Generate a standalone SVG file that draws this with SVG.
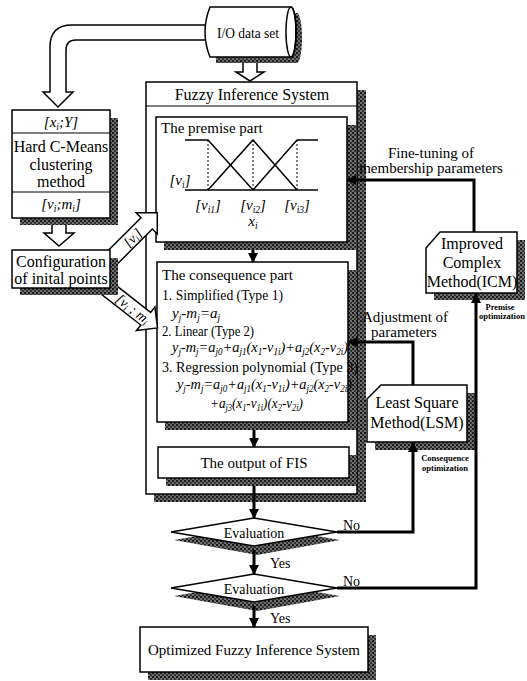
<svg xmlns="http://www.w3.org/2000/svg" width="527" height="681" viewBox="0 0 527 681">
<defs>
<pattern id="hatch" width="4" height="4" patternUnits="userSpaceOnUse">
<rect width="4" height="4" fill="#6e6e6e"/>
<rect width="2" height="2" fill="#1a1a1a"/>
<rect x="2" y="2" width="2" height="2" fill="#333"/>
</pattern>
<marker id="ah" markerWidth="10" markerHeight="10" refX="9" refY="5" orient="auto" markerUnits="userSpaceOnUse">
<path d="M0,0 L10,5 L0,10 Z" fill="#000"/>
</marker>
<style>
text{font-family:"Liberation Serif","Times New Roman",serif;fill:#000}
.t16{font-size:16px}
.t15{font-size:15px}
.t14{font-size:14px}
.sm{font-size:8.5px;font-weight:bold}
.c{text-anchor:middle}
.it{font-style:italic}
.s{font-size:9.5px}
.box{fill:#fff;stroke:#000;stroke-width:1.5}
.sh{fill:url(#hatch)}
.hol{fill:#fff;stroke:#000;stroke-width:1.5;stroke-linejoin:miter}
.ln{fill:none;stroke:#000;stroke-width:3}
.ds{fill:none;stroke:#000;stroke-width:1;stroke-dasharray:2,2}
</style>
</defs>

<!-- hollow arrows -->
<g id="hollow-arrows">
<path class="hol" d="M210,25 L72,25 Q50,25 50,47 L50,92 L43,92 L58,107 L73,92 L66,92 L66,50 Q66,40 76,40 L210,40"/>
<path class="hol" d="M243,60 L243,72 L236,72 L250,81 L264,72 L257,72 L257,60"/>
<path class="hol" d="M52,224 L52,233 L44,233 L59,246 L74,233 L66,233 L66,224"/>
</g>

<!-- I/O data set cylinder -->
<g id="io">
<path class="sh" d="M216,13 L297,13 A5,25 0 0 1 297,63 L216,63 Z"/>
<path class="box" d="M210,7 L291,7 A5,25 0 0 1 291,57 L210,57 Q200,32 210,7 Z"/>
<ellipse cx="291" cy="32" rx="5" ry="25" fill="none" stroke="#000" stroke-width="1.5"/>
<text class="t15 c" x="248" y="38" textLength="62" lengthAdjust="spacingAndGlyphs">I/O data set</text>
</g>

<!-- Hard C-Means -->
<g id="hcm">
<rect class="sh" x="20" y="118" width="98" height="107"/>
<rect class="box" x="12" y="110" width="98" height="108"/>
<line x1="12" y1="133" x2="110" y2="133" stroke="#000" stroke-width="1.2"/>
<line x1="12" y1="192" x2="110" y2="192" stroke="#000" stroke-width="1.2"/>
<text class="t15 c it" x="61" y="127">[x<tspan class="s" dy="3">i</tspan><tspan dy="-3">;Y]</tspan></text>
<text class="t16 c" x="61" y="152">Hard C-Means</text>
<text class="t16 c" x="61" y="170">clustering</text>
<text class="t16 c" x="61" y="187">method</text>
<text class="t15 c it" x="61" y="209">[v<tspan class="s" dy="3">i</tspan><tspan dy="-3">;m</tspan><tspan class="s" dy="3">i</tspan><tspan dy="-3">]</tspan></text>
</g>

<!-- FIS outer -->
<g id="fis">
<rect class="sh" x="154" y="90" width="212" height="412"/>
<rect class="box" x="146" y="82" width="211" height="412"/>
<line x1="146" y1="106" x2="357" y2="106" stroke="#000" stroke-width="1.2"/>
<text class="t16 c" x="252" y="100">Fuzzy Inference System</text>
</g>

<!-- Premise part -->
<g id="premise">
<rect class="sh" x="164" y="125" width="192" height="125"/>
<rect class="box" x="156" y="117" width="191" height="125"/>
<text class="t15" x="161" y="133">The premise part</text>
<line x1="185" y1="190" x2="318" y2="190" stroke="#000" stroke-width="1.5"/>
<polyline fill="none" stroke="#000" stroke-width="1.5" points="185,140 208,140 253,190"/>
<polyline fill="none" stroke="#000" stroke-width="1.5" points="208,190 253,140 297,190"/>
<polyline fill="none" stroke="#000" stroke-width="1.5" points="253,190 297,140 318,140"/>
<line class="ds" x1="208" y1="140" x2="208" y2="190"/>
<line class="ds" x1="253" y1="140" x2="253" y2="190"/>
<line class="ds" x1="297" y1="140" x2="297" y2="190"/>
<text class="t15 c it" x="180" y="185">[v<tspan class="s" dy="3">i</tspan><tspan dy="-3">]</tspan></text>
<text class="t15 c it" x="208" y="210">[v<tspan class="s" dy="3">i1</tspan><tspan dy="-3">]</tspan></text>
<text class="t15 c it" x="253" y="210">[v<tspan class="s" dy="3">i2</tspan><tspan dy="-3">]</tspan></text>
<text class="t15 c it" x="297" y="210">[v<tspan class="s" dy="3">i3</tspan><tspan dy="-3">]</tspan></text>
<text class="t15 c it" x="253" y="226">x<tspan class="s" dy="3">i</tspan></text>
</g>

<!-- Consequence part -->
<g id="consequence">
<rect class="sh" x="165" y="270" width="192" height="160"/>
<rect class="box" x="157" y="262" width="191" height="160"/>
<text class="t15" x="162" y="280" textLength="131" lengthAdjust="spacingAndGlyphs">The consequence part</text>
<text class="t15" x="162" y="300" textLength="121" lengthAdjust="spacingAndGlyphs">1. Simplified (Type 1)</text>
<text class="t15 it" x="172" y="318">y<tspan class="s" dy="2.5">j</tspan><tspan dy="-2.5">-m</tspan><tspan class="s" dy="2.5">j</tspan><tspan dy="-2.5">=a</tspan><tspan class="s" dy="2.5">j</tspan></text>
<text class="t15" x="162" y="336" textLength="92" lengthAdjust="spacingAndGlyphs">2. Linear (Type 2)</text>
<text class="t15 it" x="172" y="352" textLength="176" lengthAdjust="spacingAndGlyphs">y<tspan class="s" dy="2.5">j</tspan><tspan dy="-2.5">-m</tspan><tspan class="s" dy="2.5">j</tspan><tspan dy="-2.5">=a</tspan><tspan class="s" dy="2.5">j0</tspan><tspan dy="-2.5">+a</tspan><tspan class="s" dy="2.5">j1</tspan><tspan dy="-2.5">(x</tspan><tspan class="s" dy="2.5">1</tspan><tspan dy="-2.5">-v</tspan><tspan class="s" dy="2.5">1i</tspan><tspan dy="-2.5">)+a</tspan><tspan class="s" dy="2.5">j2</tspan><tspan dy="-2.5">(x</tspan><tspan class="s" dy="2.5">2</tspan><tspan dy="-2.5">-v</tspan><tspan class="s" dy="2.5">2i</tspan><tspan dy="-2.5">)</tspan></text>
<text class="t15" x="162" y="372" textLength="196" lengthAdjust="spacingAndGlyphs">3. Regression polynomial (Type 3)</text>
<text class="t15 it" x="177" y="389" textLength="175" lengthAdjust="spacingAndGlyphs">y<tspan class="s" dy="2.5">j</tspan><tspan dy="-2.5">-m</tspan><tspan class="s" dy="2.5">j</tspan><tspan dy="-2.5">=a</tspan><tspan class="s" dy="2.5">j0</tspan><tspan dy="-2.5">+a</tspan><tspan class="s" dy="2.5">j1</tspan><tspan dy="-2.5">(x</tspan><tspan class="s" dy="2.5">1</tspan><tspan dy="-2.5">-v</tspan><tspan class="s" dy="2.5">1i</tspan><tspan dy="-2.5">)+a</tspan><tspan class="s" dy="2.5">j2</tspan><tspan dy="-2.5">(x</tspan><tspan class="s" dy="2.5">2</tspan><tspan dy="-2.5">-v</tspan><tspan class="s" dy="2.5">2i</tspan><tspan dy="-2.5">)</tspan></text>
<text class="t15 it" x="210" y="408" textLength="93" lengthAdjust="spacingAndGlyphs">+a<tspan class="s" dy="2.5">j3</tspan><tspan dy="-2.5">(x</tspan><tspan class="s" dy="2.5">1</tspan><tspan dy="-2.5">-v</tspan><tspan class="s" dy="2.5">1i</tspan><tspan dy="-2.5">)(x</tspan><tspan class="s" dy="2.5">2</tspan><tspan dy="-2.5">-v</tspan><tspan class="s" dy="2.5">2i</tspan><tspan dy="-2.5">)</tspan></text>
</g>

<!-- diagonal hollow arrows -->
<g id="diag-arrows">
<g transform="translate(100,270) rotate(-45)">
<path class="hol" d="M0,-8 H66 V-15 L81,0 L66,15 V8 H0 Z"/>
<text class="t14 c it" x="46" y="5">[v<tspan class="s" dy="2.5">i</tspan><tspan dy="-2.5">]</tspan></text>
</g>
<g transform="translate(100,283) rotate(38)">
<path class="hol" d="M0,-8 H58 V-15 L73,0 L58,15 V8 H0 Z"/>
<text class="t14 c it" x="42" y="5">[v<tspan class="s" dy="2.5">i</tspan><tspan dy="-2.5"> ; m</tspan><tspan class="s" dy="2.5">i</tspan></text>
</g>
</g>

<!-- Configuration -->
<g id="config">
<rect class="sh" x="20" y="258" width="98" height="37"/>
<rect class="box" x="12" y="250" width="98" height="38"/>
<text class="t16 c" x="61" y="267">Configuration</text>
<text class="t16 c" x="61" y="284">of inital points</text>
</g>

<!-- Output of FIS -->
<g id="output">
<rect class="sh" x="166" y="455" width="191" height="31"/>
<rect class="box" x="158" y="447" width="191" height="31"/>
<text class="t15 c" x="254" y="468">The output of FIS</text>
</g>

<!-- ICM -->
<g id="icm">
<path class="sh" d="M448,240 L525,240 L525,300 L434,300 L434,256 Z"/>
<path class="box" d="M440,232 L517,232 L517,293 L426,293 L426,248 Z"/>
<text class="t16 c" x="472" y="249">Improved</text>
<text class="t16 c" x="472" y="268">Complex</text>
<text class="t16 c" x="472" y="287">Method(ICM)</text>
</g>

<!-- LSM -->
<g id="lsm">
<path class="sh" d="M389,393 L475,393 L475,450 L375,450 L375,407 Z"/>
<path class="box" d="M381,385 L467,385 L467,442 L367,442 L367,399 Z"/>
<text class="t16 c" x="417" y="408">Least Square</text>
<text class="t16 c" x="417" y="428">Method(LSM)</text>
</g>

<!-- Evaluation 1 -->
<g id="eval1">
<polygon class="sh" points="174,540 257,526 340,540 257,555"/>
<polygon class="box" points="171,532 254,518 337,532 254,546"/>
<text class="t14 c" x="254" y="538">Evaluation</text>
</g>

<!-- Evaluation 2 -->
<g id="eval2">
<polygon class="sh" points="174,596 257,582 340,596 257,611"/>
<polygon class="box" points="171,588 254,574 337,588 254,602"/>
<text class="t14 c" x="254" y="594">Evaluation</text>
</g>

<!-- Final -->
<g id="final">
<rect class="sh" x="148" y="635" width="228" height="45"/>
<rect class="box" x="140" y="627" width="228" height="45"/>
<text class="t15 c" x="254" y="655">Optimized Fuzzy Inference System</text>
</g>

<!-- connectors -->
<g id="connectors">
<line class="ln" x1="253" y1="250" x2="253" y2="262" marker-end="url(#ah)"/>
<line class="ln" x1="254" y1="430" x2="254" y2="447" marker-end="url(#ah)"/>
<line class="ln" x1="254" y1="486" x2="254" y2="518" marker-end="url(#ah)"/>
<line class="ln" x1="254" y1="550" x2="254" y2="574" marker-end="url(#ah)"/>
<line class="ln" x1="254" y1="606" x2="254" y2="627" marker-end="url(#ah)"/>
<polyline class="ln" points="337,532 413,532 413,443" marker-end="url(#ah)"/>
<polyline class="ln" points="413,385 413,342 348,342" marker-end="url(#ah)"/>
<polyline class="ln" points="337,588 476,588 476,294" marker-end="url(#ah)"/>
<polyline class="ln" points="474,232 474,180 347,180" marker-end="url(#ah)"/>
<text class="t14" x="270" y="568">Yes</text>
<text class="t14" x="270" y="623">Yes</text>
<text class="t14" x="343" y="530">No</text>
<text class="t14" x="343" y="586">No</text>
<text class="t15 c" x="431" y="158">Fine-tuning of</text>
<text class="t15 c" x="431" y="173">membership parameters</text>
<text class="t15 c" x="405" y="322">Adjustment of</text>
<text class="t15 c" x="404" y="337">parameters</text>
<text class="sm c" x="445" y="461">Consequence</text>
<text class="sm c" x="445" y="471">optimization</text>
<text class="sm c" x="500" y="310">Premise</text>
<text class="sm c" x="502" y="319">optimization</text>
</g>
</svg>
